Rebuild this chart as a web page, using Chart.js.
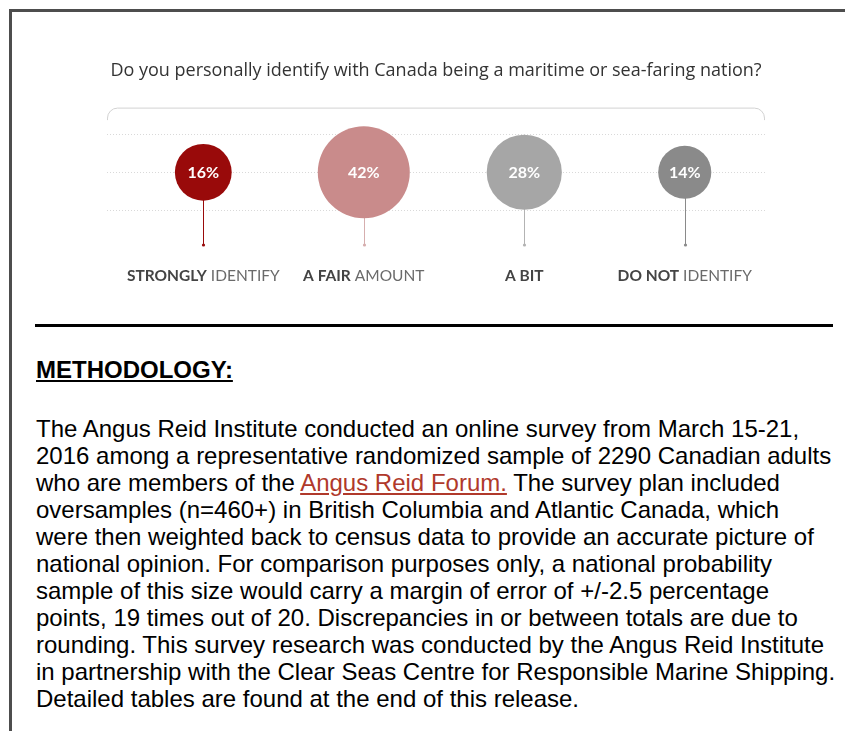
<!DOCTYPE html>
<html>
<head>
<meta charset="utf-8">
<script src="https://cdn.jsdelivr.net/npm/chart.js@4/dist/chart.umd.min.js"></script>
<style>
  html, body { margin: 0; padding: 0; background: #fff; width: 845px; height: 731px; overflow: hidden; }
  #frame { position: absolute; left: 9px; top: 9px; right: 0; bottom: 0; border-top: 3px solid #4d4d4d; border-left: 3px solid #4d4d4d; }
  #chart { position: absolute; left: 0; top: 0; }
  #rule { position: absolute; left: 35px; top: 324px; width: 798px; height: 3px; background: #000; }
  #method { position: absolute; left: 36px; top: 356px; font-family: "Liberation Sans", Arial, sans-serif; font-weight: bold; font-size: 24px; line-height: 27px; text-decoration: underline; color: #000; }
  #para { position: absolute; left: 36px; top: 415px; font-family: "Liberation Sans", Arial, sans-serif; font-size: 24px; line-height: 27px; color: #000; white-space: nowrap; }
  #para a { color: #b0392b; text-decoration: underline; }
</style>
</head>
<body>
<div id="frame"></div>
<canvas id="chart" width="845" height="310"></canvas>
<div id="rule"></div>
<div id="method">METHODOLOGY:</div>
<div id="para">
The Angus Reid Institute conducted an online survey from March 15-21,<br>
2016 among a representative randomized sample of 2290 Canadian adults<br>
who are members of the <a>Angus Reid Forum.</a> The survey plan included<br>
oversamples (n=460+) in British Columbia and Atlantic Canada, which<br>
were then weighted back to census data to provide an accurate picture of<br>
national opinion. For comparison purposes only, a national probability<br>
sample of this size would carry a margin of error of +/-2.5 percentage<br>
points, 19 times out of 20. Discrepancies in or between totals are due to<br>
rounding. This survey research was conducted by the Angus Reid Institute<br>
in partnership with the Clear Seas Centre for Responsible Marine Shipping.<br>
Detailed tables are found at the end of this release.
</div>
<script>
// ---- data ----
const titleText = "Do you personally identify with Canada being a maritime or sea-faring nation?";
const categories = ["Strongly identify", "A fair amount", "A bit", "Do not identify"];
const labelBold = ["STRONGLY", "A FAIR", "A BIT", "DO NOT"];
const labelRest = ["IDENTIFY", "AMOUNT", "", "IDENTIFY"];
const values = [16, 42, 28, 14];
const bubbleColors = ["#990a0a", "#c98b8b", "#a6a6a6", "#8a8a8a"];
const stemColors = ["#990a0a", "#d6aeae", "#b3b3b3", "#8a8a8a"];

// area-proportional radius scale (pixels per sqrt(percent))
const radiusScale = 7.1;

const bubbleData = values.map((v, i) => ({ x: i, y: 0, r: radiusScale * Math.sqrt(v), v: v }));

const decorPlugin = {
  id: 'decor',
  beforeDatasetsDraw(chart) {
    const ctx = chart.ctx, a = chart.chartArea;
    ctx.save();
    ctx.strokeStyle = '#d2d2d2';
    ctx.lineWidth = 1;
    const top = a.top - 26.5, l = a.left + 0.5, r = a.right - 0.5, rad = 10;
    ctx.beginPath();
    ctx.moveTo(l, top + 12);
    ctx.arcTo(l, top, l + rad, top, rad);
    ctx.lineTo(r - rad, top);
    ctx.arcTo(r, top, r, top + 12, rad);
    ctx.lineTo(r, top + 12);
    ctx.stroke();
    const meta = chart.getDatasetMeta(0);
    const stemEnd = a.bottom + 35;
    meta.data.forEach((el, i) => {
      const x = Math.round(el.x) + 0.5;
      ctx.strokeStyle = stemColors[i];
      ctx.lineWidth = 1;
      ctx.beginPath();
      ctx.moveTo(x, el.y);
      ctx.lineTo(x, stemEnd);
      ctx.stroke();
      ctx.fillStyle = stemColors[i];
      ctx.beginPath();
      ctx.arc(x, stemEnd, 1.6, 0, Math.PI * 2);
      ctx.fill();
    });
    ctx.restore();
  },
  afterDatasetsDraw(chart) {
    const ctx = chart.ctx, a = chart.chartArea;
    const meta = chart.getDatasetMeta(0);
    ctx.save();
    ctx.textBaseline = 'middle';
    meta.data.forEach((el, i) => {
      ctx.font = 'bold 16px Lato';
      ctx.fillStyle = '#ffffff';
      ctx.textAlign = 'center';
      ctx.fillText(values[i] + '%', el.x, el.y + 1);
      const boldFont = 'bold 15.5px Lato', regFont = '15.5px Lato';
      ctx.font = boldFont;
      const wb = ctx.measureText(labelBold[i]).width;
      let wr = 0;
      const rest = labelRest[i] ? ' ' + labelRest[i] : '';
      if (rest) { ctx.font = regFont; wr = ctx.measureText(rest).width; }
      const x0 = el.x - (wb + wr) / 2;
      const y = a.bottom + 66;
      ctx.textAlign = 'left';
      ctx.font = boldFont; ctx.fillStyle = '#444444';
      ctx.fillText(labelBold[i], x0, y);
      if (rest) { ctx.font = regFont; ctx.fillStyle = '#6a6a6a'; ctx.fillText(rest, x0 + wb, y); }
    });
    ctx.restore();
  }
};

new Chart(document.getElementById('chart'), {
  type: 'bubble',
  data: {
    labels: categories,
    datasets: [{
      data: bubbleData,
      backgroundColor: bubbleColors,
      borderWidth: 0,
      hoverRadius: 0,
      clip: false
    }]
  },
  options: {
    responsive: false,
    animation: false,
    events: [],
    layout: { padding: { left: 107, right: 80, top: 0, bottom: 100 } },
    plugins: {
      legend: { display: false },
      tooltip: { enabled: false },
      title: {
        display: true,
        text: titleText,
        color: '#333333',
        font: { family: 'Open Sans', size: 18, weight: 'normal', lineHeight: 1.2 },
        padding: { top: 60, bottom: 53 }
      }
    },
    scales: {
      x: { type: 'linear', min: -0.6, max: 3.5, display: false },
      y: {
        min: -1, max: 1,
        ticks: { display: false, stepSize: 1 },
        grid: { color: '#d9d9d9', drawTicks: false, lineWidth: 1 },
        border: { display: false, dash: [1, 2] }
      }
    }
  },
  plugins: [decorPlugin]
});
</script>
</body>
</html>
